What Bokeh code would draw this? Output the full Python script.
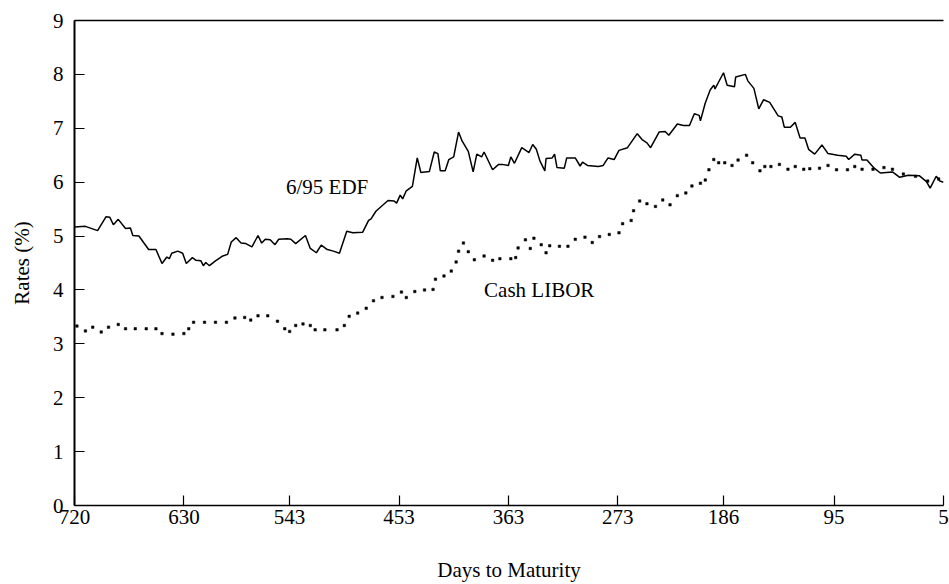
from bokeh.plotting import figure
from bokeh.models import Range1d, FixedTicker, LinearAxis, ColumnDataSource
from bokeh.core.properties import value
from bokeh.embed import file_html
from bokeh.resources import INLINE

# ---- data ----
x_ticks = [720, 630, 543, 453, 363, 273, 186, 95, 5]
y_ticks = [0, 1, 2, 3, 4, 5, 6, 7, 8, 9]

edf_days = [720, 711, 701, 694, 691, 688, 684, 678, 674, 672,
            667, 659, 653, 648, 644, 642, 640, 635, 631, 628,
            623, 620, 616, 614, 612, 609, 604, 598, 594, 591,
            587, 583, 579, 574, 569, 566, 563, 559, 555, 552,
            545, 542, 538, 530, 526, 521, 517, 512, 507, 502,
            496, 491, 483, 478, 476, 472, 466, 462, 457, 455,
            452, 450, 447, 442, 438, 435, 428, 424, 421, 419,
            415, 412, 408, 404, 401, 396, 392, 389, 385, 383,
            376, 371, 368, 363, 361, 358, 352, 346, 343, 340,
            337, 333, 332, 327, 325, 323, 317, 315, 308, 304,
            302, 298, 289, 285, 281, 276, 272, 265, 257, 253,
            249, 246, 239, 234, 231, 224, 219, 214, 210, 206,
            205, 201, 197, 194, 193, 186, 183, 177, 176, 168,
            166, 161, 157, 153, 148, 141, 138, 136, 131, 127,
            123, 119, 116, 111, 105, 100, 92, 85, 83, 78,
            73, 72, 68, 62, 57, 47, 41, 34, 25, 19,
            16, 11, 8, 5]
edf_rates = [5.17, 5.18, 5.10, 5.36, 5.35, 5.21, 5.31, 5.14, 5.15, 5.01,
             5.00, 4.75, 4.75, 4.49, 4.61, 4.58, 4.68, 4.72, 4.68, 4.49,
             4.60, 4.55, 4.54, 4.45, 4.51, 4.45, 4.54, 4.63, 4.66, 4.89,
             4.97, 4.87, 4.86, 4.80, 5.01, 4.87, 4.94, 4.93, 4.84, 4.94,
             4.95, 4.94, 4.86, 5.01, 4.77, 4.69, 4.83, 4.75, 4.72, 4.68,
             5.09, 5.06, 5.07, 5.29, 5.32, 5.46, 5.58, 5.66, 5.65, 5.61,
             5.76, 5.69, 5.84, 5.92, 6.45, 6.18, 6.20, 6.56, 6.53, 6.21,
             6.21, 6.42, 6.47, 6.93, 6.76, 6.57, 6.19, 6.52, 6.47, 6.56,
             6.23, 6.33, 6.33, 6.31, 6.47, 6.35, 6.64, 6.55, 6.70, 6.61,
             6.39, 6.21, 6.44, 6.45, 6.52, 6.27, 6.26, 6.45, 6.45, 6.30,
             6.37, 6.31, 6.29, 6.31, 6.45, 6.42, 6.59, 6.64, 6.90, 6.79,
             6.73, 6.64, 6.93, 6.94, 6.87, 7.08, 7.05, 7.05, 7.27, 7.24,
             7.14, 7.47, 7.71, 7.80, 7.73, 8.03, 7.80, 7.77, 7.95, 8.00,
             7.88, 7.74, 7.36, 7.53, 7.48, 7.23, 7.21, 7.02, 7.02, 7.11,
             6.82, 6.82, 6.61, 6.52, 6.69, 6.53, 6.50, 6.48, 6.42, 6.52,
             6.50, 6.41, 6.41, 6.26, 6.17, 6.19, 6.09, 6.13, 6.12, 6.01,
             5.89, 6.11, 6.02, 6.00]

libor_days = [718, 711, 705, 698, 692, 684, 678, 670, 661, 653,
              648, 639, 630, 626, 622, 613, 604, 595, 588, 580,
              575, 569, 561, 553, 547, 543, 538, 532, 526, 522,
              514, 504, 498, 494, 487, 480, 474, 467, 458, 451,
              447, 440, 432, 425, 423, 416, 410, 406, 404, 400,
              396, 391, 383, 376, 370, 361, 357, 355, 349, 345,
              342, 336, 332, 329, 321, 314, 308, 300, 294, 288,
              280, 272, 269, 262, 260, 255, 249, 242, 236, 230,
              224, 217, 212, 205, 201, 198, 194, 190, 185, 179,
              174, 167, 162, 156, 152, 147, 140, 133, 127, 120,
              115, 107, 100, 93, 84, 78, 72, 63, 54, 47,
              38, 28, 18, 9]
libor_rates = [3.33, 3.24, 3.31, 3.22, 3.31, 3.36, 3.28, 3.28, 3.28, 3.28,
               3.19, 3.18, 3.19, 3.28, 3.40, 3.40, 3.40, 3.40, 3.48, 3.49,
               3.44, 3.52, 3.52, 3.42, 3.28, 3.23, 3.34, 3.37, 3.34, 3.26,
               3.26, 3.26, 3.34, 3.51, 3.57, 3.66, 3.80, 3.86, 3.88, 3.96,
               3.86, 3.97, 4.00, 4.01, 4.20, 4.26, 4.35, 4.52, 4.72, 4.87,
               4.71, 4.56, 4.63, 4.55, 4.58, 4.58, 4.60, 4.78, 4.93, 4.77,
               4.96, 4.84, 4.69, 4.82, 4.81, 4.81, 4.94, 4.98, 4.88, 4.99,
               5.03, 5.06, 5.23, 5.29, 5.47, 5.65, 5.60, 5.55, 5.67, 5.58,
               5.75, 5.80, 5.93, 5.98, 6.04, 6.23, 6.42, 6.36, 6.36, 6.31,
               6.41, 6.50, 6.36, 6.21, 6.29, 6.29, 6.33, 6.24, 6.29, 6.24,
               6.25, 6.26, 6.31, 6.23, 6.23, 6.29, 6.24, 6.24, 6.27, 6.24,
               6.15, 6.11, 6.02, 6.06]

label_days = [546, 383]
label_rates = [5.91, 4.00]
label_texts = ["6/95 EDF", "Cash LIBOR"]

FONT = "Liberation Serif"

p = figure(width=949, height=584,
           x_range=Range1d(720, 5), y_range=Range1d(0, 9),
           output_backend="svg", toolbar_location=None,
           min_border_left=74, min_border_right=6,
           min_border_top=20, min_border_bottom=75)
p.background_fill_color = "white"
p.border_fill_color = "white"
p.outline_line_color = None
p.grid.visible = False

# axes
for ax in (p.xaxis[0], p.yaxis[0]):
    ax.major_tick_in = 10
    ax.major_tick_out = 0
    ax.minor_tick_in = 0
    ax.minor_tick_out = 0
    ax.axis_line_color = "black"
    ax.major_tick_line_color = "black"
    ax.major_tick_line_width = 1.2
    ax.major_label_text_font = FONT
    ax.major_label_text_font_size = "21px"
    ax.major_label_text_color = "black"
    ax.axis_label_text_font = FONT
    ax.axis_label_text_font_size = "21px"
    ax.axis_label_text_font_style = "normal"
    ax.axis_label_text_color = "black"

p.xaxis.ticker = FixedTicker(ticks=x_ticks)
p.yaxis.ticker = FixedTicker(ticks=y_ticks)
p.xaxis.axis_label = "Days to Maturity"
p.yaxis.axis_label = "Rates (%)"
p.xaxis.axis_line_width = 1.5
p.yaxis.axis_line_width = 2
p.xaxis.major_label_standoff = 4
p.xaxis.axis_label_standoff = 31
p.yaxis.major_label_standoff = 11
p.yaxis.axis_label_standoff = 16

top = LinearAxis(ticker=FixedTicker(ticks=[]), major_tick_in=0, major_tick_out=0,
                 minor_tick_in=0, minor_tick_out=0, major_label_standoff=0,
                 major_label_text_font_size="0px", axis_line_width=1.5,
                 axis_line_color="black")
p.add_layout(top, "above")

# series
p.line(edf_days, edf_rates, line_color="black", line_width=1.5)
p.scatter(libor_days, libor_rates, marker="square", size=2.5,
          fill_color="black", line_color="black", line_width=0.5)

src = ColumnDataSource(dict(x=label_days, y=label_rates, t=label_texts))
p.text(x="x", y="y", text="t", source=src, text_font=value(FONT),
       text_font_size="21px", text_color="black",
       text_align="left", text_baseline="alphabetic")

open("out.html", "w").write(file_html(p, INLINE))
